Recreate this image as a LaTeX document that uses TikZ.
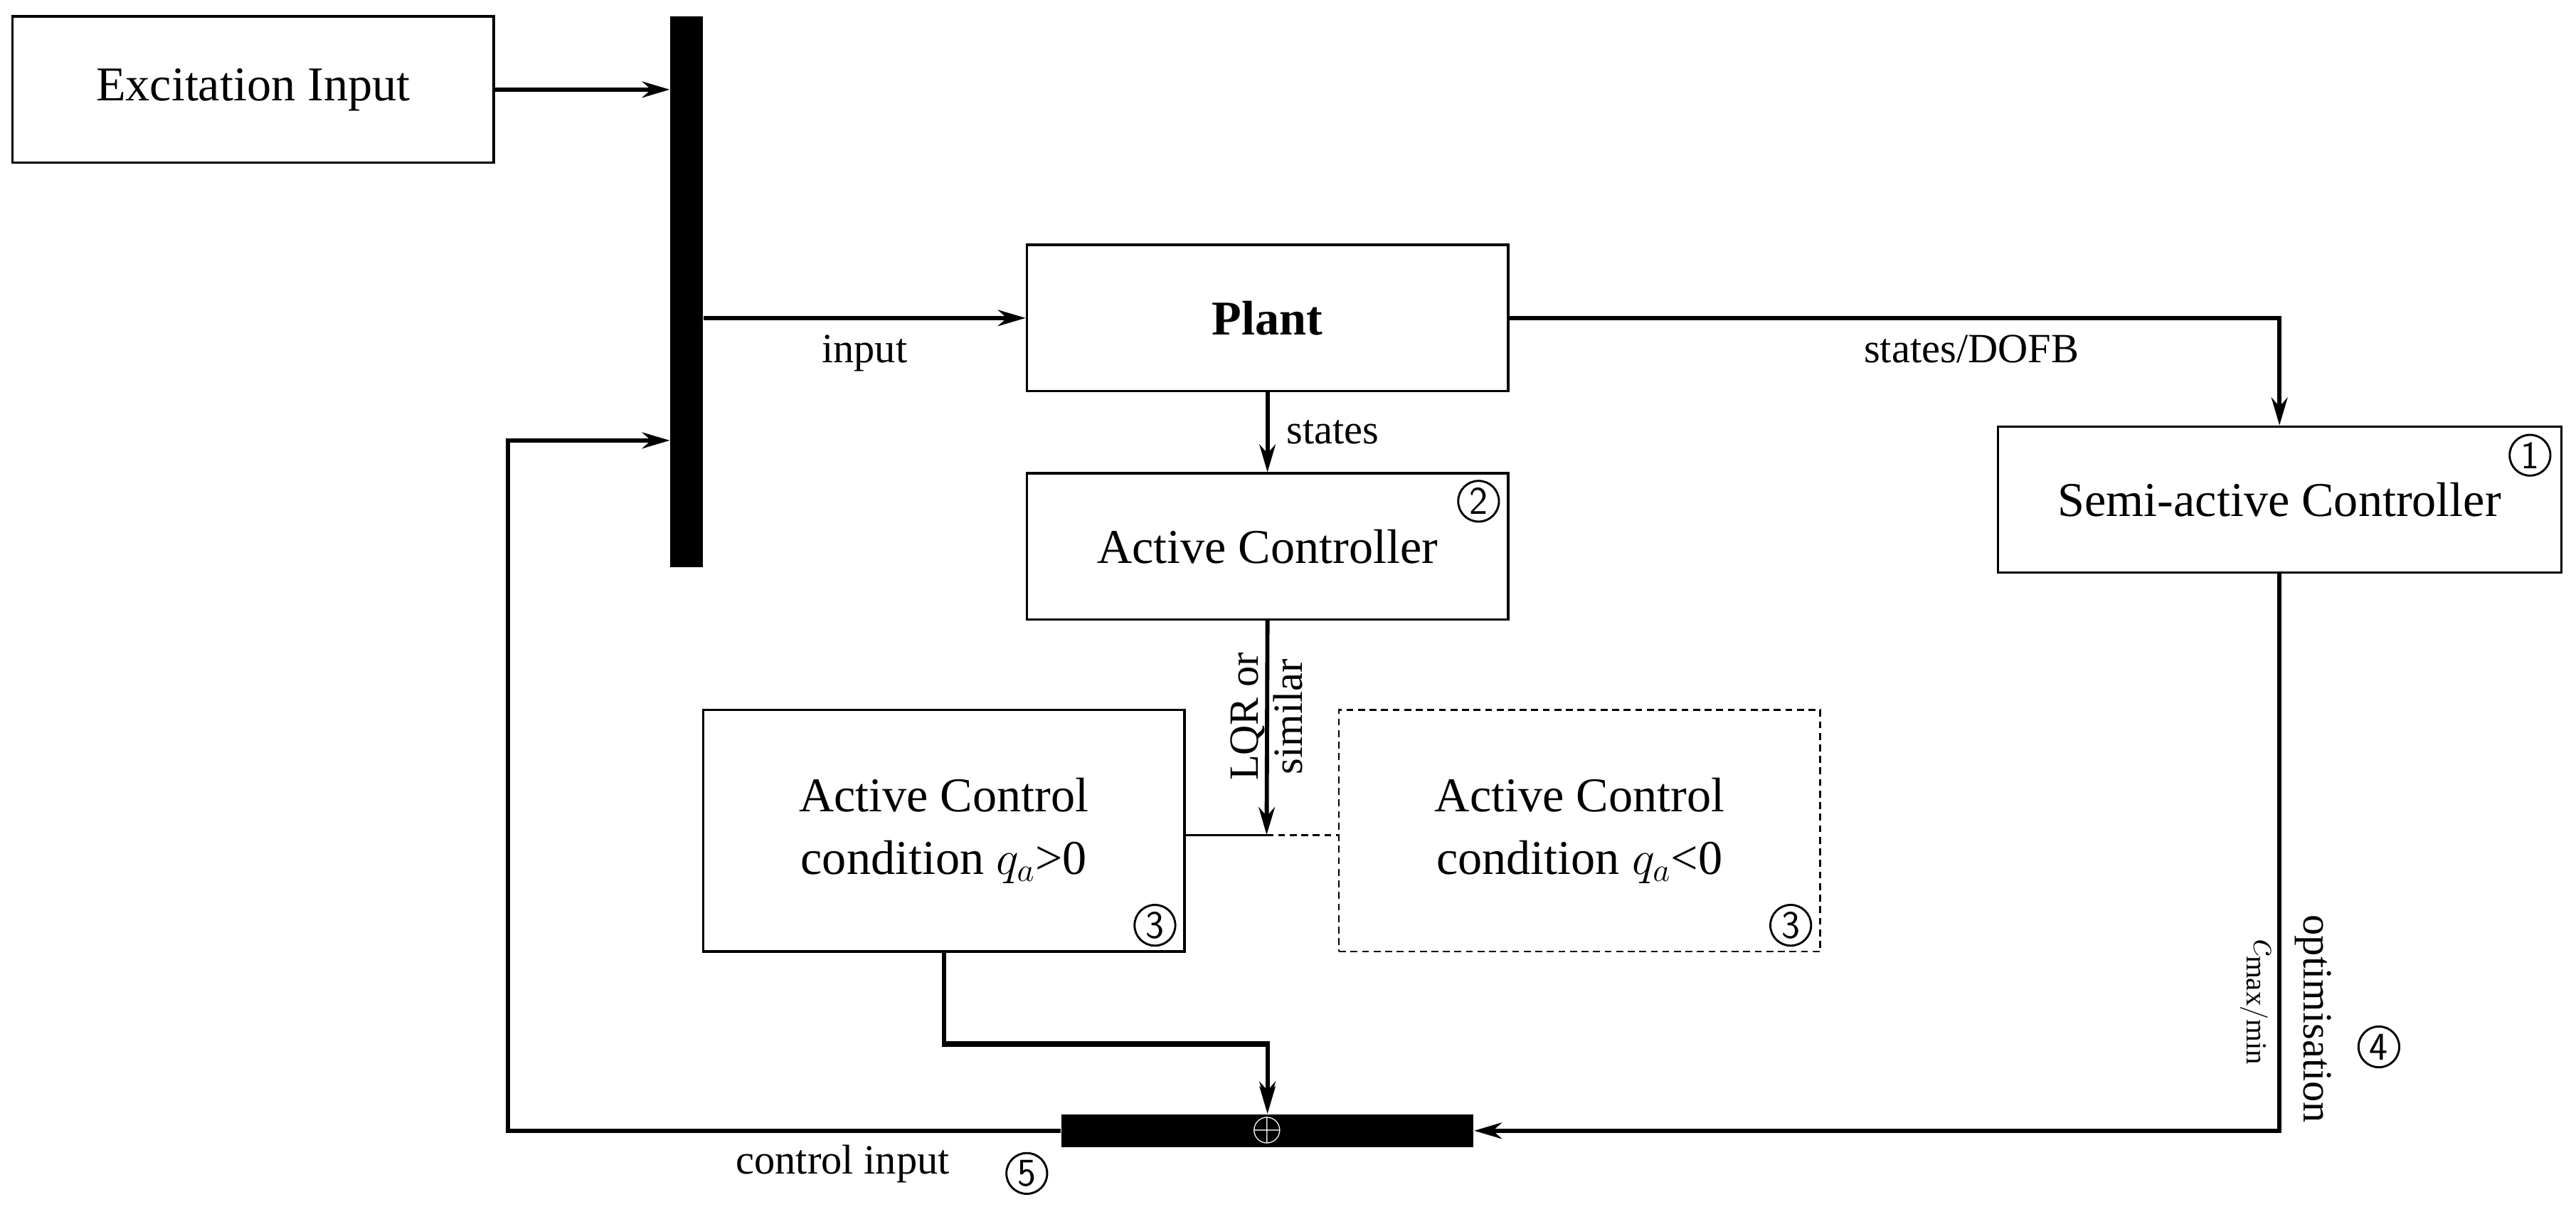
\documentclass[tikz,border=0pt]{standalone}
\usepackage{fontspec}
\setmainfont{Liberation Serif}
\usetikzlibrary{arrows.meta}
\begin{document}
\begin{tikzpicture}[x=0.025cm,y=-0.025cm,
  box/.style={draw,line width=1pt,minimum width=293*0.025cm,minimum height=89*0.025cm,font=\fontsize{21}{27}\selectfont,align=center},
  bigbox/.style={box,minimum height=147*0.025cm},
  lbl/.style={font=\fontsize{18}{21}\selectfont},
  num/.style={draw,circle,inner sep=0pt,minimum size=0.62cm,line width=0.9pt,font=\fontsize{17}{17}\sffamily},
  ln/.style={line width=1.8pt},
  arr/.style={ln,-{Stealth[length=12pt,width=7pt]}},
  bar/.style={fill=black,draw=none}]
\useasboundingbox (0,0) rectangle (1568,734);
\node[box] (exc) at (154,54.5) {Excitation Input};
\node[bar,minimum width=20*0.025cm,minimum height=335*0.025cm,inner sep=0] (vbar) at (418,177.5) {};
\node[box] (plant) at (771.5,193.5) {\textbf{Plant}};
\node[box] (act) at (771.5,332.5) {Active Controller};
\node[box,minimum width=343*0.025cm] (semi) at (1387.5,304) {Semi-active Controller};
\node[bigbox] (acp) at (574.5,505.5) {Active Control\\condition $q_a$>0};
\node[bigbox,densely dashed,line width=0.8pt] (acn) at (961.5,505.5) {Active Control\\condition $q_a$<0};
\node[bar,minimum width=251*0.025cm,minimum height=20*0.025cm,inner sep=0] (hbar) at (771.5,688) {};
\node[text=white,font=\fontsize{16}{16}\selectfont] (plus) at (771.5,688) {$\oplus$};
\node[num] (n1) at (1540,277) {1};
\node[num] (n2) at (900,305) {2};
\node[num] (n3a) at (703,563) {3};
\node[num] (n3b) at (1090,563) {3};
\node[num] (n4) at (1448,637) {4};
\node[num] (n5) at (625,714) {5};
\coordinate (j) at (771,508);
\coordinate (cl) at (309,688);
\draw[arr] (exc.east) -- (exc.east -| vbar.west);
\draw[arr] (vbar.east |- plant.west) -- (plant.west) node[lbl,midway,below=3pt] {input};
\draw[arr] (plant.east) -| (semi.north) node[lbl,pos=0.3,below=3pt] {states/DOFB};
\draw[arr] (plant.south) -- (act.north) node[lbl,midway,right=4pt] {states};
\draw[arr] (act.south) -- (j);
\node[lbl,rotate=90,align=center,font=\fontsize{18}{19}\selectfont] (lqr) at (771,436) {LQR or\\similar};
\draw[line width=1pt] (acp.east |- j) -- (j);
\draw[line width=1pt,densely dashed] (j) -- (acn.west |- j);
\draw[ln] (acp.south) -- ++(0,56) -| (plus.north) [arr];
\draw[arr] (575,635) -- (771.5,635) -- (hbar.north);
\draw[arr] (semi.south) |- (hbar.east);
\node[lbl,rotate=-90] (opt) at (1408,620) {optimisation};
\node[rotate=-90,font=\fontsize{18}{18}\selectfont] (cmm) at (1373,610) {$c_{\mathrm{max/min}}$};
\draw[arr] (hbar.west) -- (cl) |- (vbar.west |- 0,268);
\node[lbl] (ci) at (513,708) {control input};
\end{tikzpicture}
\end{document}
